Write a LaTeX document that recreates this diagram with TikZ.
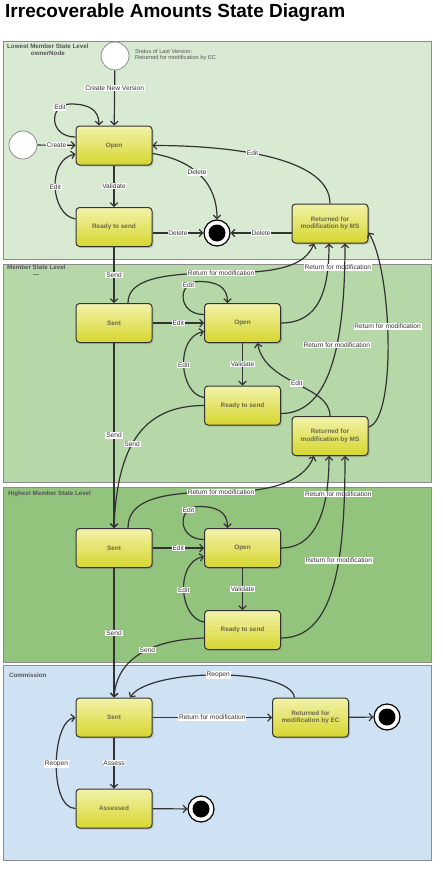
\documentclass[tikz,border=0pt]{standalone}
\usepackage{fontspec}
\setmainfont{Liberation Sans}
\usetikzlibrary{arrows.meta,shadows}

\definecolor{laneLowest}{HTML}{D9EAD3}
\definecolor{laneMember}{HTML}{B6D7A8}
\definecolor{laneHighest}{HTML}{93C47D}
\definecolor{laneCommission}{HTML}{CFE2F3}
\definecolor{laneBorder}{HTML}{8C8C8C}
\definecolor{boxTop}{HTML}{F2F2AA}
\definecolor{boxBottom}{HTML}{D6D62E}
\definecolor{lineGray}{HTML}{333333}
\definecolor{textGray}{HTML}{555555}
\definecolor{boxText}{HTML}{6A6A4A}

\begin{document}
\begin{tikzpicture}[x=1pt,y=-1pt]
  \tikzstyle{lane}=[draw=laneBorder, line width=0.8pt]
  \tikzstyle{lanetitle}=[anchor=north west, inner sep=0pt, align=center, text=textGray, font=\fontsize{6.2}{7}\selectfont\bfseries]
  \tikzstyle{statenode}=[rectangle, rounded corners=3.5pt, draw=lineGray, line width=1pt, minimum width=76pt, minimum height=39pt, top color=boxTop, bottom color=boxBottom, drop shadow={shadow xshift=1.5pt, shadow yshift=-1.5pt, opacity=0.35}, align=center, text=boxText, font=\fontsize{6.4}{7.6}\selectfont\bfseries]
  \tikzstyle{initnode}=[circle, draw=laneBorder, line width=0.8pt, fill=white, minimum size=28pt, inner sep=0pt]
  \tikzstyle{finalnode}=[circle, draw=black, line width=1.2pt, fill=white, minimum size=26pt, inner sep=0pt, path picture={\fill[black] (path picture bounding box.center) circle (8.5pt);}]
  \tikzstyle{trans}=[draw=lineGray, line width=1.2pt, -{Straight Barb[length=3.5pt,width=7.5pt]}]
  \tikzstyle{lbl}=[fill=white, inner sep=0.8pt, text=lineGray, font=\fontsize{6.6}{7.6}\selectfont]
  \useasboundingbox (0,0) rectangle (442,870);

  \node[anchor=base west, inner sep=0pt, font=\fontsize{19}{22}\selectfont\bfseries] (title) at (5,17.5) {Irrecoverable Amounts State Diagram};

  % Swim lanes
  \draw[lane, fill=laneLowest] (3,41) rectangle (431.5,259);
  \draw[lane, fill=laneMember] (3,264) rectangle (431.5,482);
  \draw[lane, fill=laneHighest] (3,487) rectangle (431.5,662);
  \draw[lane, fill=laneCommission] (3,665.5) rectangle (431.5,860);
  \node[lanetitle] (lowestTitle) at (7,43.5) {Lowest Member State Level\\ownerNode};
  \node[lanetitle] (memberTitle) at (7,264.5) {Member State Level\\—};
  \node[lanetitle] (highestTitle) at (8,490.5) {Highest Member State Level};
  \node[lanetitle] (commissionTitle) at (9,672.5) {Commission};

  % Node definitions
  \node[initnode] (init1) at (115,56) {};
  \node[anchor=north west, inner sep=0pt, align=left, text=textGray, font=\fontsize{5.7}{6.3}\selectfont] (statusNote) at (135,49) {Status of Last Version:\\Returned for modification by EC};
  \node[initnode] (init0) at (23,145) {};
  \node[statenode] (open1) at (114,145.5) {Open};
  \node[statenode] (ready1) at (114,227) {Ready to send};
  \node[finalnode] (final1) at (217,233) {};
  \node[statenode] (retMS1) at (330,223.5) {Returned for\\modification by MS};

  \node[statenode] (sent2) at (114,323) {Sent};
  \node[statenode] (open2) at (242.5,323) {Open};
  \node[statenode] (ready2) at (242.5,405.5) {Ready to send};
  \node[statenode] (retMS2) at (330,436) {Returned for\\modification by MS};

  \node[statenode] (sent3) at (114,548) {Sent};
  \node[statenode] (open3) at (242.5,548) {Open};
  \node[statenode] (ready3) at (242.5,630) {Ready to send};

  \node[statenode] (sent4) at (114,717.5) {Sent};
  \node[statenode] (retEC) at (310.5,717.5) {Returned for\\modification by EC};
  \node[finalnode] (final3) at (387,717) {};
  \node[statenode] (assessed) at (114,808.5) {Assessed};
  \node[finalnode] (final2) at (201,809) {};

  % Lowest member state level
  \draw[trans] (init1) -- node[lbl, pos=0.32]{Create New Version} (open1);
  \draw[trans] (init0) -- node[lbl]{Create} (open1);
  \draw[trans] ([yshift=8.5pt]open1.west) .. controls +(-27,0) and +(-22,0) .. ++(-5,-33) node[lbl, pos=0.8]{Edit} .. controls +(18,0) and +(0,-16) .. ([xshift=-15pt]open1.north);
  \draw[trans] (open1) -- node[lbl]{Validate} (ready1);
  \draw[trans] ([yshift=8pt]ready1.west) .. controls +(-25,-4) and +(-29,6) .. ([yshift=-8.5pt]open1.west) node[lbl, pos=0.5]{Edit};
  \draw[trans] ([yshift=-8pt]open1.east) .. controls +(42,7) and +(0,-36) .. (final1.north) node[lbl, pos=0.45]{Delete};
  \draw[trans] (ready1.east |- final1) -- node[lbl]{Delete} (final1);
  \draw[trans] (retMS1.west |- final1) -- node[lbl]{Delete} (final1);
  \draw[trans] (retMS1.north) .. controls +(0,-44) and +(87,0) .. (open1.east) node[lbl, pos=0.6]{Edit};

  % Member state level
  \draw[trans] (ready1) -- node[lbl]{Send} (sent2);
  \draw[trans] (sent2) -- node[lbl]{Edit} (open2);
  \draw[trans] ([yshift=8.5pt]open2.west) .. controls +(-27,0) and +(-22,0) .. ++(-5,-33) node[lbl, pos=0.8]{Edit} .. controls +(18,0) and +(0,-16) .. ([xshift=-15pt]open2.north);
  \draw[trans] (open2) -- node[lbl]{Validate} (ready2);
  \draw[trans] ([yshift=8pt]ready2.west) .. controls +(-25,-4) and +(-29,6) .. ([yshift=-8.5pt]open2.west) node[lbl, pos=0.5]{Edit};
  \draw[trans] ([xshift=14pt]sent2.north) .. controls +(0,-23) and +(-61,0) .. ++(93,-30) node[lbl]{Return for modification} .. controls +(59,0) and +(-9,22) .. ([xshift=-16pt]retMS1.south);
  \draw[trans] (open2.east) .. controls +(38,0) and +(0,47) .. ([xshift=-1pt]retMS1.south) node[lbl, pos=0.82, xshift=10pt]{Return for modification};
  \draw[trans] ([yshift=-8pt]ready2.east) .. controls +(50,0) and +(0,97) .. ([xshift=15pt]retMS1.south) node[lbl, pos=0.6]{Return for modification};
  \draw[trans] ([yshift=9pt]retMS2.east) .. controls +(28,-7) and +(24,40) .. ([yshift=-9pt]retMS1.east) node[lbl, pos=0.56]{Return for modification};
  \draw[trans] (retMS2.north) .. controls +(0,-31) and +(8,42) .. ([xshift=15pt]open2.south) node[lbl, pos=0.5]{Edit};

  % Highest member state level
  \draw[trans] (sent2) -- node[lbl]{Send} (sent3);
  \draw[trans] (ready2.west) .. controls +(-64,0) and +(3,-78) .. (sent3.north) node[lbl, pos=0.55]{Send};
  \draw[trans] (sent3) -- node[lbl]{Edit} (open3);
  \draw[trans] ([yshift=8.5pt]open3.west) .. controls +(-27,0) and +(-22,0) .. ++(-5,-33) node[lbl, pos=0.8]{Edit} .. controls +(18,0) and +(0,-16) .. ([xshift=-15pt]open3.north);
  \draw[trans] (open3) -- node[lbl]{Validate} (ready3);
  \draw[trans] ([yshift=8pt]ready3.west) .. controls +(-25,-4) and +(-29,6) .. ([yshift=-8.5pt]open3.west) node[lbl, pos=0.5]{Edit};
  \draw[trans] ([xshift=14pt]sent3.north) .. controls +(0,-28) and +(-61,0) .. ++(93,-36) node[lbl]{Return for modification} .. controls +(59,0) and +(-9,22) .. ([xshift=-16pt]retMS2.south);
  \draw[trans] (open3.east) .. controls +(38,0) and +(0,47) .. ([xshift=-1pt]retMS2.south) node[lbl, pos=0.72, xshift=12pt]{Return for modification};
  \draw[trans] ([yshift=-8pt]ready3.east) .. controls +(54,0) and +(0,104) .. ([xshift=15pt]retMS2.south) node[lbl, pos=0.62]{Return for modification};

  % Commission
  \draw[trans] (sent3) -- node[lbl]{Send} (sent4);
  \draw[trans] ([yshift=-8pt]ready3.west) .. controls +(-55,2) and +(3,-38) .. (sent4.north) node[lbl, pos=0.42]{Send};
  \draw[trans] (sent4) -- node[lbl]{Return for modification} (retEC);
  \draw[trans] ([xshift=-16pt]retEC.north) .. controls +(-4,-30) and +(20,-30) .. ([xshift=16pt]sent4.north) node[lbl, pos=0.5]{Reopen};
  \draw[trans] (retEC) -- (final3);
  \draw[trans] (sent4) -- node[lbl]{Assess} (assessed);
  \draw[trans] (assessed.west) .. controls +(-27,0) and +(-24,3) .. (sent4.west) node[lbl, pos=0.5]{Reopen};
  \draw[trans] (assessed) -- (final2);
\end{tikzpicture}
\end{document}
